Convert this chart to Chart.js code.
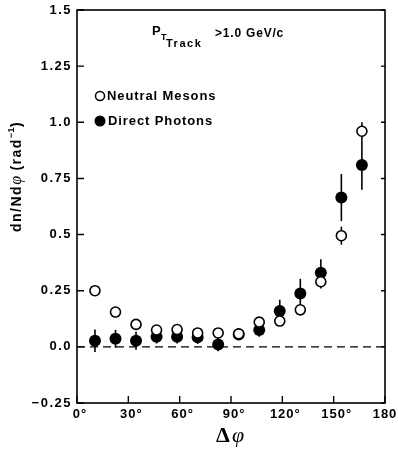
<!DOCTYPE html>
<html>
<head>
<meta charset="utf-8">
<script src="https://cdn.jsdelivr.net/npm/chart.js@4"></script>
<style>
  html, body { margin: 0; padding: 0; background: #fff; }
  #wrap { width: 398px; height: 449px; }
</style>
</head>
<body>
<div id="wrap"><canvas id="c" width="398" height="449"></canvas></div>
<script>
// bin centres in degrees
const phiBins = [10.5, 22.5, 34.5, 46.5, 58.5, 70.5, 82.5, 94.5, 106.5, 118.5, 130.5, 142.5, 154.5, 166.5];

// neutral mesons (open circles)
const mesonVals = [0.25, 0.155, 0.10, 0.075, 0.077, 0.062, 0.062, 0.058, 0.11, 0.115, 0.165, 0.29, 0.495, 0.96];
const mesonErrs = [0.02, 0.015, 0.015, 0.012, 0.012, 0.012, 0.012, 0.012, 0.015, 0.02, 0.025, 0.03, 0.04, 0.04];

// direct photons (filled circles)
const photonVals = [0.027, 0.036, 0.027, 0.045, 0.045, 0.043, 0.01, 0.055, 0.075, 0.16, 0.238, 0.33, 0.665, 0.81];
const photonErrs = [0.05, 0.04, 0.04, 0.03, 0.03, 0.03, 0.03, 0.025, 0.03, 0.05, 0.065, 0.06, 0.105, 0.11];

const xTicks = [0, 30, 60, 90, 120, 150, 180];
const xTickLabels = ["0°", "30°", "60°", "90°", "120°", "150°", "180"];
const yTicks = [-0.25, 0, 0.25, 0.5, 0.75, 1.0, 1.25, 1.5];
const yTickLabels = ["\u22120.25", "0.0", "0.25", "0.5", "0.75", "1.0", "1.25", "1.5"];

const SANS = "'Liberation Sans', Arial, sans-serif";
const SERIF = "'Liberation Serif', 'DejaVu Serif', serif";

const toPts = (xs, ys) => xs.map((x, i) => ({ x: x, y: ys[i] }));

// error bars, zero line, frame, inner ticks, labels
const paperPlugin = {
  id: "paper",
  beforeDatasetsDraw(chart) {
    const { ctx, chartArea: a, scales } = chart;
    const xs = scales.x, ys = scales.y;
    ctx.save();
    // dashed zero line
    ctx.strokeStyle = "#000";
    ctx.lineWidth = 1.3;
    ctx.setLineDash([8, 5]);
    ctx.beginPath();
    ctx.moveTo(a.left, ys.getPixelForValue(0));
    ctx.lineTo(a.right, ys.getPixelForValue(0));
    ctx.stroke();
    ctx.setLineDash([]);
    // error bars
    chart.data.datasets.forEach((ds) => {
      ds.data.forEach((p, i) => {
        const e = ds.errs[i];
        const px = xs.getPixelForValue(p.x);
        ctx.lineWidth = 1.6;
        ctx.beginPath();
        ctx.moveTo(px, ys.getPixelForValue(p.y - e));
        ctx.lineTo(px, ys.getPixelForValue(p.y + e));
        ctx.stroke();
      });
    });
    ctx.restore();
  },
  afterDraw(chart) {
    const { ctx, chartArea: a, scales } = chart;
    const xs = scales.x, ys = scales.y;
    ctx.save();
    ctx.strokeStyle = "#000";
    ctx.fillStyle = "#000";
    // frame
    ctx.lineWidth = 1.6;
    ctx.strokeRect(a.left, a.top, a.right - a.left, a.bottom - a.top);
    // inner ticks
    ctx.lineWidth = 1.4;
    yTicks.forEach((v) => {
      const py = ys.getPixelForValue(v);
      ctx.beginPath();
      ctx.moveTo(a.left, py);
      ctx.lineTo(a.left + 7, py);
      ctx.moveTo(a.right, py);
      ctx.lineTo(a.right - 4, py);
      ctx.stroke();
    });
    xTicks.forEach((v) => {
      const px = xs.getPixelForValue(v);
      ctx.beginPath();
      ctx.moveTo(px, a.bottom);
      ctx.lineTo(px, a.bottom - 7);
      ctx.stroke();
    });
    // tick labels
    ctx.font = "bold 13px " + SANS;
    ctx.letterSpacing = "1.5px";
    ctx.textAlign = "right";
    ctx.textBaseline = "middle";
    yTicks.forEach((v, i) => {
      ctx.fillText(yTickLabels[i], a.left - 5, ys.getPixelForValue(v));
    });
    ctx.letterSpacing = "1px";
    ctx.textAlign = "center";
    ctx.textBaseline = "top";
    xTicks.forEach((v, i) => {
      const lab = xTickLabels[i];
      const off = lab.endsWith("°") ? 3 : 0;
      ctx.fillText(lab, xs.getPixelForValue(v) + off, a.bottom + 5);
    });
    ctx.letterSpacing = "0px";
    // x title
    ctx.font = "bold 22px " + SERIF;
    ctx.textAlign = "left";
    ctx.textBaseline = "alphabetic";
    ctx.fillText("\u0394", 216, 442);
    ctx.font = "italic 22px " + SERIF;
    ctx.fillText("\u03C6", 232, 442);
    // y title (rotated)
    ctx.save();
    ctx.translate(21, 232);
    ctx.rotate(-Math.PI / 2);
    ctx.textAlign = "left";
    ctx.textBaseline = "alphabetic";
    let x = 0;
    const part = (txt, font, dy, sp) => {
      ctx.font = font;
      ctx.letterSpacing = (sp === undefined ? 1.5 : sp) + "px";
      ctx.fillText(txt, x, dy || 0);
      x += ctx.measureText(txt).width;
    };
    part("dn/Nd", "bold 14px " + SANS);
    part("\u03C6", "italic 16px " + SERIF, 0, 0);
    part(" (rad", "bold 14px " + SANS);
    part("\u22121", "bold 9px " + SANS, -7, 0.5);
    part(")", "bold 14px " + SANS);
    ctx.restore();
    // annotation P_T_Track > 1.0 GeV/c
    ctx.textAlign = "left";
    ctx.textBaseline = "alphabetic";
    ctx.font = "bold 13px " + SANS;
    ctx.fillText("P", 152, 35);
    ctx.font = "bold 9px " + SANS;
    ctx.fillText("T", 161, 40);
    ctx.font = "bold 11px " + SANS;
    ctx.letterSpacing = "1.5px";
    ctx.fillText("Track", 166, 47);
    ctx.font = "bold 12px " + SANS;
    ctx.letterSpacing = "0.8px";
    ctx.fillText(">1.0 GeV/c", 215, 37);
    // legend
    ctx.letterSpacing = "0px";
    ctx.lineWidth = 1.5;
    ctx.beginPath();
    ctx.arc(100, 96, 4.5, 0, Math.PI * 2);
    ctx.fillStyle = "#fff";
    ctx.fill();
    ctx.stroke();
    ctx.fillStyle = "#000";
    ctx.beginPath();
    ctx.arc(100, 121, 5.5, 0, Math.PI * 2);
    ctx.fill();
    ctx.font = "bold 13px " + SANS;
    ctx.letterSpacing = "0.9px";
    ctx.textBaseline = "middle";
    ctx.fillText("Neutral Mesons", 107, 96);
    ctx.fillText("Direct Photons", 108, 121);
    ctx.restore();
  }
};

new Chart(document.getElementById("c"), {
  type: "scatter",
  data: {
    datasets: [
      {
        label: "Neutral Mesons",
        data: toPts(phiBins, mesonVals),
        errs: mesonErrs,
        pointRadius: 5,
        pointBorderWidth: 1.6,
        pointBackgroundColor: "#fff",
        pointBorderColor: "#000",
      },
      {
        label: "Direct Photons",
        data: toPts(phiBins, photonVals),
        errs: photonErrs,
        pointRadius: 6,
        pointBorderWidth: 0,
        pointBackgroundColor: "#000",
        pointBorderColor: "#000",
      },
    ],
  },
  options: {
    responsive: false,
    animation: false,
    devicePixelRatio: 1,
    layout: { padding: { top: 10, right: 13, left: 0, bottom: 0 } },
    plugins: { legend: { display: false }, tooltip: { enabled: false } },
    scales: {
      x: {
        type: "linear",
        min: 0,
        max: 180,
        grid: { display: false },
        border: { display: false },
        ticks: { display: false },
        afterFit: (s) => { s.height = 46; },
      },
      y: {
        type: "linear",
        min: -0.25,
        max: 1.5,
        grid: { display: false },
        border: { display: false },
        ticks: { display: false },
        afterFit: (s) => { s.width = 77; },
      },
    },
  },
  plugins: [paperPlugin],
});
</script>
</body>
</html>
